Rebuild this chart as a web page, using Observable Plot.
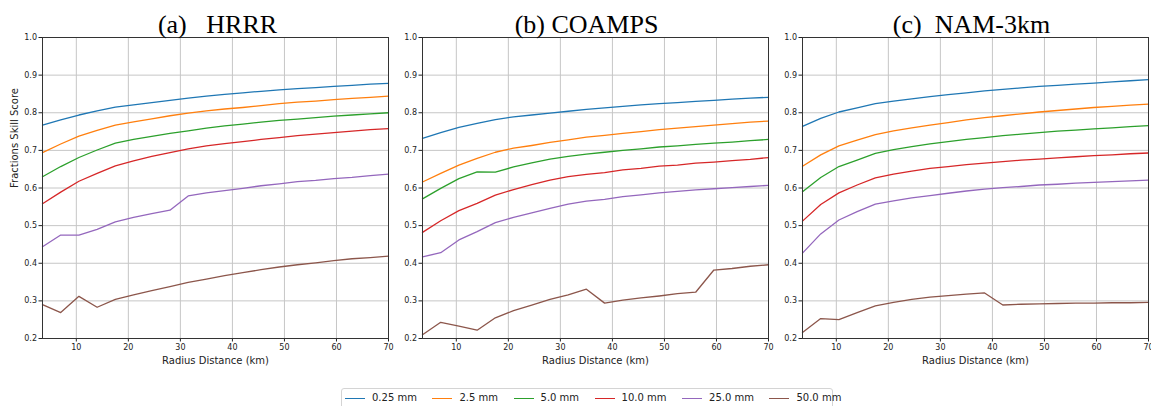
<!DOCTYPE html>
<html>
<head>
<meta charset="utf-8">
<script src="https://cdn.jsdelivr.net/npm/d3@7"></script>
<script src="https://cdn.jsdelivr.net/npm/@observablehq/plot@0.6"></script>
<style>
  html, body { margin: 0; padding: 0; background: #fff; }
  #wrap { position: relative; width: 1151px; height: 406px; overflow: hidden; font-family: "DejaVu Sans", sans-serif; }
  .panel { position: absolute; top: 0; }
  #legend { position: absolute; left: 341px; top: 388px; width: 492px; height: 24px; border: 1px solid #d4d4d4; border-radius: 3px; box-sizing: border-box; display: flex; flex-wrap: nowrap; align-items: flex-start; padding: 3px 0 0 3px; font-size: 10px; line-height: 12px; color: #222; background: #fff; white-space: nowrap; }
  .item { display: flex; flex-shrink: 0; align-items: center; margin-right: 15.5px; height: 12px; white-space: nowrap; }
  .sw { flex-shrink: 0; width: 20px; height: 0; border-top: 1.4px solid; margin-right: 7px; }
</style>
</head>
<body>
<div id="wrap">
  <div id="legend"></div>
</div>
<script>
// ---- data ----
const radius = [3.5, 7, 10.5, 14, 17.5, 21, 24.5, 28, 31.5, 35, 38.5, 42, 45.5, 49, 52.5, 56, 59.5, 63, 66.5, 70];
const thresholds = ["0.25 mm", "2.5 mm", "5.0 mm", "10.0 mm", "25.0 mm", "50.0 mm"];
const colors = ["#1f77b4", "#ff7f0e", "#2ca02c", "#d62728", "#9467bd", "#8c564b"];
const titles = ["(a)\u00a0\u00a0\u00a0HRRR", "(b) COAMPS", "(c)\u00a0\u00a0NAM-3km"];
const xTicks = [10, 20, 30, 40, 50, 60, 70];
const yTicks = [0.2, 0.3, 0.4, 0.5, 0.6, 0.7, 0.8, 0.9, 1.0];

// (a) HRRR
const hrrr_025 = [0.767, 0.781, 0.794, 0.805, 0.815, 0.821, 0.827, 0.833, 0.839, 0.844, 0.849, 0.853, 0.857, 0.861, 0.864, 0.867, 0.870, 0.873, 0.876, 0.878];
const hrrr_25  = [0.694, 0.717, 0.738, 0.753, 0.767, 0.776, 0.784, 0.792, 0.799, 0.805, 0.810, 0.814, 0.819, 0.824, 0.828, 0.831, 0.835, 0.838, 0.841, 0.844];
const hrrr_50  = [0.630, 0.657, 0.681, 0.701, 0.719, 0.729, 0.737, 0.745, 0.752, 0.759, 0.765, 0.770, 0.775, 0.780, 0.783, 0.787, 0.791, 0.794, 0.797, 0.800];
const hrrr_100 = [0.558, 0.589, 0.618, 0.639, 0.659, 0.672, 0.684, 0.694, 0.704, 0.712, 0.718, 0.723, 0.729, 0.734, 0.739, 0.743, 0.747, 0.751, 0.755, 0.758];
const hrrr_250 = [0.444, 0.475, 0.475, 0.490, 0.510, 0.522, 0.532, 0.541, 0.579, 0.587, 0.593, 0.599, 0.606, 0.611, 0.617, 0.620, 0.625, 0.628, 0.633, 0.637];
const hrrr_500 = [0.290, 0.269, 0.312, 0.283, 0.304, 0.316, 0.327, 0.338, 0.349, 0.358, 0.367, 0.375, 0.383, 0.390, 0.396, 0.401, 0.407, 0.412, 0.415, 0.419];

// (b) COAMPS
const coamps_025 = [0.732, 0.747, 0.761, 0.772, 0.782, 0.789, 0.794, 0.799, 0.804, 0.809, 0.813, 0.817, 0.821, 0.824, 0.827, 0.830, 0.833, 0.836, 0.839, 0.841];
const coamps_25  = [0.616, 0.639, 0.661, 0.679, 0.695, 0.706, 0.713, 0.721, 0.728, 0.735, 0.740, 0.745, 0.750, 0.755, 0.759, 0.763, 0.767, 0.771, 0.775, 0.778];
const coamps_50  = [0.571, 0.599, 0.625, 0.643, 0.642, 0.656, 0.667, 0.677, 0.684, 0.690, 0.695, 0.700, 0.704, 0.709, 0.712, 0.716, 0.719, 0.722, 0.726, 0.729];
const coamps_100 = [0.482, 0.513, 0.540, 0.559, 0.581, 0.596, 0.609, 0.621, 0.630, 0.636, 0.641, 0.648, 0.652, 0.658, 0.661, 0.666, 0.669, 0.673, 0.676, 0.681];
const coamps_250 = [0.417, 0.428, 0.462, 0.484, 0.508, 0.522, 0.534, 0.546, 0.557, 0.565, 0.570, 0.577, 0.582, 0.587, 0.591, 0.595, 0.598, 0.601, 0.604, 0.607];
const coamps_500 = [0.210, 0.243, 0.233, 0.222, 0.255, 0.274, 0.289, 0.304, 0.316, 0.331, 0.294, 0.302, 0.308, 0.313, 0.319, 0.323, 0.382, 0.386, 0.392, 0.396];

// (c) NAM-3km
const nam_025 = [0.764, 0.785, 0.802, 0.813, 0.824, 0.831, 0.837, 0.843, 0.848, 0.853, 0.858, 0.862, 0.866, 0.870, 0.873, 0.876, 0.879, 0.882, 0.885, 0.888];
const nam_25  = [0.658, 0.688, 0.712, 0.727, 0.742, 0.752, 0.760, 0.767, 0.774, 0.781, 0.787, 0.792, 0.797, 0.802, 0.806, 0.810, 0.814, 0.817, 0.820, 0.823];
const nam_50  = [0.590, 0.628, 0.657, 0.674, 0.692, 0.702, 0.710, 0.717, 0.723, 0.729, 0.734, 0.739, 0.743, 0.747, 0.751, 0.754, 0.757, 0.760, 0.763, 0.766];
const nam_100 = [0.512, 0.556, 0.587, 0.608, 0.627, 0.637, 0.645, 0.652, 0.657, 0.662, 0.666, 0.670, 0.674, 0.677, 0.680, 0.683, 0.686, 0.688, 0.691, 0.693];
const nam_250 = [0.427, 0.478, 0.515, 0.537, 0.557, 0.566, 0.574, 0.580, 0.586, 0.592, 0.597, 0.601, 0.604, 0.608, 0.610, 0.613, 0.615, 0.617, 0.619, 0.621];
const nam_500 = [0.216, 0.253, 0.250, 0.269, 0.287, 0.296, 0.304, 0.310, 0.314, 0.318, 0.321, 0.289, 0.291, 0.292, 0.293, 0.294, 0.294, 0.295, 0.295, 0.296];

const panels = [
  {title: titles[0], series: [hrrr_025, hrrr_25, hrrr_50, hrrr_100, hrrr_250, hrrr_500], left: 0, width: 390, ml: 42, mr: 2, ylabel: true, tdx: 2},
  {title: titles[1], series: [coamps_025, coamps_25, coamps_50, coamps_100, coamps_250, coamps_500], left: 390, width: 380, ml: 32, mr: 2, ylabel: false, tdx: -9},
  {title: titles[2], series: [nam_025, nam_25, nam_50, nam_100, nam_250, nam_500], left: 770, width: 381, ml: 32, mr: 3, ylabel: false, tdx: -4}
];

const wrap = document.getElementById("wrap");

for (const p of panels) {
  const rows = [];
  p.series.forEach((vals, i) => vals.forEach((v, j) => rows.push({r: radius[j], v, s: thresholds[i]})));
  const marks = [
    Plot.ruleX(xTicks, {stroke: "#c6c6c6", strokeWidth: 1}),
    Plot.ruleY(yTicks, {stroke: "#c6c6c6", strokeWidth: 1}),
    Plot.line(rows, {x: "r", y: "v", z: "s", stroke: "s", strokeWidth: 1.3}),
    Plot.frame({stroke: "#333", strokeWidth: 1}),
    Plot.text([p.title], {text: d => d, frameAnchor: "top", lineAnchor: "bottom", dy: -5, dx: p.tdx, fontSize: 26, fontFamily: "Liberation Serif", fill: "#000"}),
    Plot.text(["Radius Distance (km)"], {text: d => d, frameAnchor: "bottom", lineAnchor: "middle", dy: 22, fontSize: 10, fill: "#222"})
  ];
  if (p.ylabel) {
    marks.push(Plot.text(["Fractions Skill Score"], {text: d => d, frameAnchor: "left", rotate: -90, dx: -28, lineAnchor: "middle", fontSize: 10, fill: "#222"}));
  }
  const chart = Plot.plot({
    width: p.width,
    height: 372,
    marginTop: 37,
    marginBottom: 34,
    marginLeft: p.ml,
    marginRight: p.mr,
    style: {fontFamily: "DejaVu Sans", fontSize: "8px", color: "#222", background: "transparent", overflow: "visible"},
    x: {domain: [3.5, 70], ticks: xTicks, tickSize: 3.5, tickPadding: 2, tickFormat: d3.format("d"), label: null},
    y: {domain: [0.2, 1.0], ticks: yTicks, tickSize: 3.5, tickPadding: 2, tickFormat: d3.format(".1f"), label: null},
    color: {domain: thresholds, range: colors},
    marks
  });
  chart.classList.add("panel");
  chart.style.left = p.left + "px";
  wrap.appendChild(chart);
}

const legend = document.getElementById("legend");
thresholds.forEach((t, i) => {
  const item = document.createElement("div");
  item.className = "item";
  const sw = document.createElement("div");
  sw.className = "sw";
  sw.style.borderTopColor = colors[i];
  const lab = document.createElement("span");
  lab.textContent = t;
  item.appendChild(sw);
  item.appendChild(lab);
  legend.appendChild(item);
});
</script>
</body>
</html>
